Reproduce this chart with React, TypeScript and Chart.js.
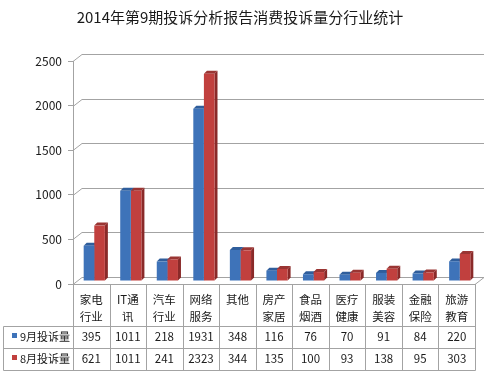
import { useEffect, useRef } from "react";
import { Chart, registerables } from "chart.js";

Chart.register(...registerables);

const chartTitle = "2014年第9期投诉分析报告消费投诉量分行业统计";
const categories: string[][] = [
  ["家电", "行业"],
  ["IT通", "讯"],
  ["汽车", "行业"],
  ["网络", "服务"],
  ["其他"],
  ["房产", "家居"],
  ["食品", "烟酒"],
  ["医疗", "健康"],
  ["服装", "美容"],
  ["金融", "保险"],
  ["旅游", "教育"],
];
const seriesNames = ["9月投诉量", "8月投诉量"];
const sepValues = [395, 1011, 218, 1931, 348, 116, 76, 70, 91, 84, 220];
const augValues = [621, 1011, 241, 2323, 344, 135, 100, 93, 138, 95, 303];
const yMin = 0;
const yMax = 2500;
const yStep = 500;

const FONT = "'Noto Sans CJK SC', 'Noto Sans', sans-serif";
const GRID = "#a3a3a3";
const TEXT = "#1a1a1a";
const FRONT = ["#3e73b9", "#c1403e"];
const SIDE = ["#28538b", "#8a2a29"];
const TOP = ["#2f5e9c", "#9a3533"];
const LEGEND = ["#3e73b9", "#c1403e"];

const WALL_DX = 9;
const WALL_DY = -7;
const BAR_DX = 3;
const BAR_DY = -3;
const DEPTH = 3;

const excel3d = {
  id: "excel3d",
  beforeDatasetsDraw(chart: any) {
    const { ctx, chartArea: a } = chart;
    const y = chart.scales.y;
    ctx.save();
    ctx.strokeStyle = GRID;
    ctx.lineWidth = 1;
    for (let v = yMin; v <= yMax; v += yStep) {
      const py = Math.round(y.getPixelForValue(v)) + 0.5;
      ctx.beginPath();
      ctx.moveTo(a.left, py);
      ctx.lineTo(a.left + WALL_DX, py + WALL_DY);
      ctx.lineTo(a.right + WALL_DX, py + WALL_DY);
      ctx.stroke();
    }
    const p0 = Math.round(y.getPixelForValue(0)) + 0.5;
    ctx.beginPath();
    ctx.moveTo(a.left, p0);
    ctx.lineTo(a.right, p0);
    ctx.lineTo(a.right + WALL_DX, p0 + WALL_DY);
    ctx.stroke();
    ctx.restore();

    ctx.save();
    ctx.translate(BAR_DX, BAR_DY);
    chart.data.datasets.forEach((_ds: any, i: number) => {
      const meta = chart.getDatasetMeta(i);
      meta.data.forEach((bar: any) => {
        const { x, y: top, base, width } = bar.getProps(["x", "y", "base", "width"], true);
        const l = x - width / 2;
        const r = x + width / 2;
        ctx.fillStyle = SIDE[i];
        ctx.beginPath();
        ctx.moveTo(r, top);
        ctx.lineTo(r + DEPTH, top - DEPTH);
        ctx.lineTo(r + DEPTH, base - DEPTH);
        ctx.lineTo(r, base);
        ctx.closePath();
        ctx.fill();
        ctx.fillStyle = TOP[i];
        ctx.beginPath();
        ctx.moveTo(l, top);
        ctx.lineTo(l + DEPTH, top - DEPTH);
        ctx.lineTo(r + DEPTH, top - DEPTH);
        ctx.lineTo(r, top);
        ctx.closePath();
        ctx.fill();
      });
    });
  },
  afterDatasetsDraw(chart: any) {
    chart.ctx.restore();
  },
  afterDraw(chart: any) {
    const { ctx, chartArea: a } = chart;
    const xs = chart.scales.x;
    const y = chart.scales.y;
    const n = categories.length;
    const colW = (a.right - a.left) / n;
    const top = Math.round(y.getPixelForValue(0));
    const r1 = 326;
    const r2 = 348;
    const bottom = 370;
    const tLeft = 3;

    ctx.save();
    ctx.fillStyle = TEXT;
    ctx.font = `15px ${FONT}`;
    ctx.textAlign = "center";
    ctx.textBaseline = "middle";
    ctx.fillText(chartTitle, 240, 17);

    ctx.strokeStyle = GRID;
    ctx.lineWidth = 1;
    ctx.beginPath();
    for (let i = 0; i <= n; i++) {
      const px = Math.round(a.left + i * colW) + 0.5;
      ctx.moveTo(px, top);
      ctx.lineTo(px, bottom + 0.5);
    }
    ctx.moveTo(tLeft + 0.5, r1 + 0.5);
    ctx.lineTo(tLeft + 0.5, bottom + 0.5);
    [r1, r2, bottom].forEach((ry) => {
      ctx.moveTo(tLeft + 0.5, ry + 0.5);
      ctx.lineTo(Math.round(a.right) + 0.5, ry + 0.5);
    });
    ctx.stroke();

    ctx.fillStyle = TEXT;
    ctx.font = `11.5px ${FONT}`;
    ctx.textAlign = "center";
    ctx.textBaseline = "middle";
    categories.forEach((lines, i) => {
      const cx = xs.getPixelForValue(i);
      lines.forEach((ln, j) => ctx.fillText(ln, cx, 300 + j * 17));
    });

    const rows = [sepValues, augValues];
    const rowY = [337, 359];
    rows.forEach((vals, ri) => {
      vals.forEach((v, i) => {
        ctx.fillText(String(v), xs.getPixelForValue(i), rowY[ri]);
      });
    });

    ctx.textAlign = "left";
    ctx.font = `11px ${FONT}`;
    seriesNames.forEach((name, ri) => {
      ctx.fillStyle = LEGEND[ri];
      ctx.fillRect(12, rowY[ri] - 4, 5, 5);
      ctx.fillStyle = TEXT;
      ctx.fillText(name, 20, rowY[ri]);
    });
    ctx.restore();
  },
};

export default function App() {
  const ref = useRef<HTMLCanvasElement | null>(null);
  useEffect(() => {
    if (!ref.current) return;
    const chart = new Chart(ref.current, {
      type: "bar",
      data: {
        labels: categories.map((c) => c.join("")),
        datasets: [
          {
            label: seriesNames[0],
            data: sepValues,
            backgroundColor: FRONT[0],
            categoryPercentage: 0.58,
            barPercentage: 1,
          },
          {
            label: seriesNames[1],
            data: augValues,
            backgroundColor: FRONT[1],
            categoryPercentage: 0.58,
            barPercentage: 1,
          },
        ],
      },
      options: {
        responsive: false,
        animation: false,
        devicePixelRatio: 1,
        layout: { padding: { left: 0, top: 61, right: 25, bottom: 89 } },
        plugins: {
          legend: { display: false },
          title: { display: false },
          tooltip: { enabled: false },
        },
        scales: {
          x: { display: false, offset: true },
          y: {
            min: yMin,
            max: yMax,
            afterFit: (s: any) => {
              s.width = 73;
            },
            ticks: {
              stepSize: yStep,
              color: TEXT,
              font: { family: FONT, size: 12 },
              padding: 6,
              callback: (v: any) => String(v),
            },
            grid: {
              display: true,
              drawOnChartArea: false,
              drawTicks: true,
              tickLength: 5,
              color: GRID,
            },
            border: { display: true, color: GRID },
          },
        },
      },
      plugins: [excel3d],
    });
    return () => chart.destroy();
  }, []);
  return (
    <div style={{ position: "fixed", left: 0, top: 0, width: 500, height: 373, background: "#fff" }}>
      <canvas ref={ref} width={500} height={373} style={{ display: "block" }} />
    </div>
  );
}
